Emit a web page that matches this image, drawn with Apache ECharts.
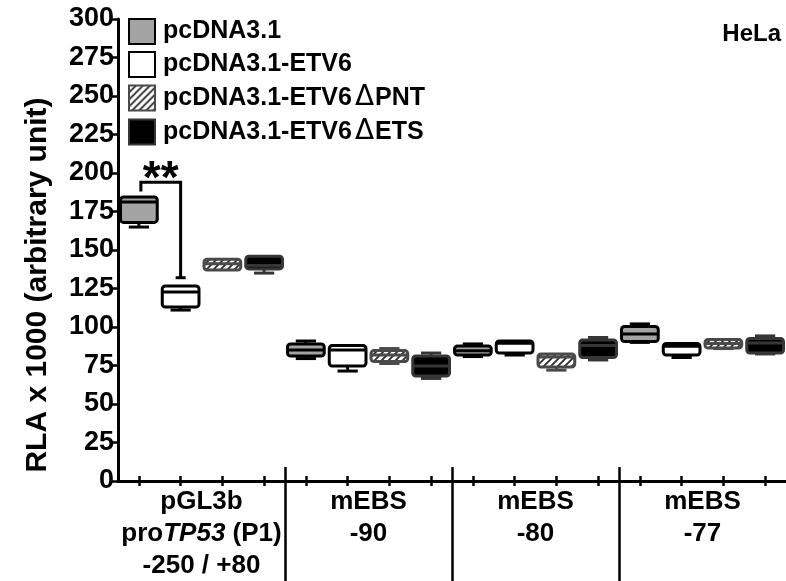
<!DOCTYPE html>
<html><head><meta charset="utf-8">
<script src="https://cdn.jsdelivr.net/npm/echarts@6/dist/echarts.min.js"></script>
<style>html,body{margin:0;padding:0;background:#fff}#c{width:786px;height:581px}</style>
</head><body><div id="c"></div>
<script>
// ---------- data ----------
const groups = ['pGL3b\nproTP53 (P1)\n-250 / +80', 'mEBS\n-90', 'mEBS\n-80', 'mEBS\n-77'];
const seriesNames = ['pcDNA3.1', 'pcDNA3.1-ETV6', 'pcDNA3.1-ETV6\u0394PNT', 'pcDNA3.1-ETV6\u0394ETS'];
// each entry: [min, Q1, median, Q3, max] for groups in order
const pcDNA31   = [[164.9,167.9,181.2,184.4,184.4],[79.5,81.2,85.0,89.0,90.9],[80.8,81.8,84.6,87.7,89.0],[90.0,90.6,95.5,100.3,102.0]];
const etv6      = [[111.0,113.0,122.7,126.6,126.6],[71.4,74.7,85.0,88.0,88.0],[81.8,83.1,89.5,90.9,90.9],[80.2,81.8,87.5,89.3,89.3]];
const etv6dPNT  = [[137.0,137.0,141.0,144.0,144.0],[76.3,77.6,81.8,84.7,86.0],[72.0,74.0,80.5,82.5,82.5],[86.0,86.4,89.3,91.9,91.9]];
const etv6dETS  = [[135.0,137.7,140.0,146.0,146.0],[66.6,68.2,74.7,81.2,83.1],[78.6,80.2,88.0,91.6,93.2],[82.5,83.1,89.6,92.5,94.2]];
const allSeries = [pcDNA31, etv6, etv6dPNT, etv6dETS];
const yMin = 0, yMax = 300, yStep = 25;
// significance bracket: [leftSlot, rightSlot, topValue, leftEndValue, rightEndValue]
const bracket = [[0, 1, 194, 188, 132]];
const bracketLabel = '**';

// ---------- styling ----------
const FONT = "'Liberation Sans', Arial, sans-serif";
function hatch() {
  const c = document.createElement('canvas');
  c.width = 7; c.height = 7;
  const g = c.getContext('2d');
  g.fillStyle = '#fff'; g.fillRect(0, 0, 7, 7);
  g.strokeStyle = '#2a2a2a'; g.lineWidth = 1.8;
  g.beginPath();
  g.moveTo(-1, 8); g.lineTo(8, -1);
  g.moveTo(-4, 4); g.lineTo(4, -4);
  g.moveTo(3, 11); g.lineTo(11, 3);
  g.stroke();
  return c;
}
const styles = [
  { fill: '#a3a3a3', stroke: '#000' },
  { fill: '#ffffff', stroke: '#000' },
  { fill: { image: hatch(), repeat: 'repeat' }, stroke: '#4a4a4a' },
  { fill: '#000000', stroke: '#363636' }
];

const slots = [];
groups.forEach((g, gi) => seriesNames.forEach((s, si) => slots.push(gi + '-' + si)));
const sepSlots = ['b0', 'b1', 'b2', 'b3', 'b4'];

function renderBox(params, api) {
  const st = styles[params.seriesIndex];
  const x = api.value(0);
  const pMin = api.coord([x, api.value(1)]);
  const pQ1 = api.coord([x, api.value(2)]);
  const pMed = api.coord([x, api.value(3)]);
  const pQ3 = api.coord([x, api.value(4)]);
  const pMax = api.coord([x, api.value(5)]);
  const slotW = api.size([1, 0])[0];
  const bw = slotW * 0.88, cw = bw * 0.55, cx = pMed[0];
  const lw = 3;
  const line = (x1, y1, x2, y2) => ({ type: 'line', shape: { x1, y1, x2, y2 }, style: { stroke: st.stroke, lineWidth: lw } });
  const ch = [];
  if (pMax[1] < pQ3[1] - 0.5) { ch.push(line(cx, pQ3[1], cx, pMax[1])); ch.push(line(cx - cw / 2, pMax[1], cx + cw / 2, pMax[1])); }
  if (pMin[1] > pQ1[1] + 0.5) { ch.push(line(cx, pQ1[1], cx, pMin[1])); ch.push(line(cx - cw / 2, pMin[1], cx + cw / 2, pMin[1])); }
  ch.push({ type: 'rect', shape: { x: cx - bw / 2, y: pQ3[1], width: bw, height: pQ1[1] - pQ3[1], r: 3 },
    style: { fill: st.fill, stroke: st.stroke, lineWidth: lw } });
  ch.push(line(cx - bw / 2, pMed[1], cx + bw / 2, pMed[1]));
  return { type: 'group', children: ch };
}

function renderBracket(params, api) {
  const pL = api.coord([api.value(0), api.value(2)]);
  const pR = api.coord([api.value(1), api.value(2)]);
  const pLE = api.coord([api.value(0), api.value(3)]);
  const pRE = api.coord([api.value(1), api.value(4)]);
  const xl = pL[0] + 2, xr = pR[0];
  return { type: 'group', children: [
    { type: 'polyline', shape: { points: [[xl, pLE[1]], [xl, pL[1]], [xr, pR[1]], [xr, pRE[1]]] },
      style: { stroke: '#000', lineWidth: 3, fill: null } },
    { type: 'line', shape: { x1: xr - 5, y1: pRE[1], x2: xr + 5, y2: pRE[1] }, style: { stroke: '#000', lineWidth: 3 } },
    { type: 'text', x: (xl + xr) / 2, y: pL[1] + 21,
      style: { text: bracketLabel, font: 'bold 46px ' + FONT, fill: '#000', align: 'center', verticalAlign: 'bottom' } }
  ] };
}

const series = allSeries.map((vals, si) => ({
  name: seriesNames[si],
  type: 'custom',
  xAxisIndex: 0, yAxisIndex: 0,
  renderItem: renderBox,
  itemStyle: { color: styles[si].fill, borderColor: styles[si].stroke, borderWidth: 3 },
  encode: { x: 0, y: [1, 2, 3, 4, 5] },
  data: vals.map((v, gi) => [gi * 4 + si].concat(v)),
  z: 3
}));
series.push({
  name: 'bracket', type: 'custom', xAxisIndex: 0, yAxisIndex: 0,
  renderItem: renderBracket, encode: { x: [0, 1], y: [2, 3, 4] }, data: bracket, z: 4
});

const tickStyle = { color: '#000', width: 2.5 };
const sepInterval = (i) => i > 0 && i < sepSlots.length - 1;
const hidden = { show: false };
const option = {
  animation: false,
  backgroundColor: '#fff',
  textStyle: { fontFamily: FONT },
  title: { text: 'HeLa', right: 5, top: 22, padding: 0,
    textStyle: { fontSize: 24, fontWeight: 'bold', color: '#000', fontFamily: FONT } },
  legend: {
    orient: 'vertical', left: 128, top: 18, padding: 0,
    itemWidth: 26, itemHeight: 25, itemGap: 6, icon: 'rect', selectedMode: false,
    data: seriesNames,
    formatter: (name) => {
      const k = name.indexOf('\u0394');
      return k < 0 ? '{a|' + name + '}' : '{a|' + name.slice(0, k) + '}{d|\u0394}{a|' + name.slice(k + 1) + '}';
    },
    textStyle: { fontSize: 25, fontWeight: 'bold', color: '#000', fontFamily: FONT, padding: [0, 0, 0, 3],
      rich: {
        a: { fontSize: 25, fontWeight: 'bold', color: '#000', fontFamily: FONT },
        d: { fontSize: 28, fontWeight: 'normal', color: '#000', fontFamily: "'DejaVu Sans', " + FONT, padding: [0, 1, 0, 3] }
      } }
  },
  grid: { left: 118, right: 0, top: 19, bottom: 100, containLabel: false },
  graphic: [{
    type: 'text', x: 38, y: 285, rotation: Math.PI / 2,
    style: { text: 'RLA x 1000 (arbitrary unit)', font: 'bold 30px ' + FONT, fill: '#000', align: 'center', verticalAlign: 'middle' }
  }],
  xAxis: [
    { type: 'category', data: slots, position: 'bottom', boundaryGap: true,
      axisLine: { show: true, onZero: false, lineStyle: { color: '#000', width: 3 } },
      axisTick: { show: true, alignWithLabel: true, interval: 0, length: 5, lineStyle: tickStyle },
      axisLabel: hidden, splitLine: hidden },
    { type: 'category', data: slots, position: 'bottom', boundaryGap: true,
      axisLine: { show: false, onZero: false },
      axisTick: { show: true, inside: true, alignWithLabel: true, interval: 0, length: 5, lineStyle: tickStyle },
      axisLabel: hidden, splitLine: hidden },
    { type: 'category', data: groups, position: 'bottom', boundaryGap: true,
      axisLine: { show: false, onZero: false },
      axisTick: hidden,
      axisLabel: { show: true, interval: 0, margin: 5, color: '#000',
        formatter: (v, i) => i === 0 ? '{n|pGL3b}\n{n|pro}{i|TP53}{n| (P1)}\n{n|-250 / +80}'
                                     : v.split('\n').map(s => '{n|' + s + '}').join('\n'),
        rich: {
          n: { fontSize: 26, fontWeight: 'bold', color: '#000', fontFamily: FONT, lineHeight: 32 },
          i: { fontSize: 26, fontWeight: 'bold', fontStyle: 'italic', color: '#000', fontFamily: FONT, lineHeight: 32 }
        } },
      splitLine: hidden },
    { type: 'category', data: sepSlots, position: 'bottom', boundaryGap: false,
      axisLine: { show: false, onZero: false },
      axisTick: { show: true, interval: sepInterval, length: 100, lineStyle: tickStyle },
      axisLabel: hidden, splitLine: hidden },
    { type: 'category', data: sepSlots, position: 'bottom', boundaryGap: false,
      axisLine: { show: false, onZero: false },
      axisTick: { show: true, inside: true, interval: sepInterval, length: 14, lineStyle: tickStyle },
      axisLabel: hidden, splitLine: hidden }
  ],
  yAxis: {
    type: 'value', min: yMin, max: yMax, interval: yStep,
    axisLine: { show: true, lineStyle: { color: '#000', width: 3 } },
    axisTick: { show: true, length: 6, lineStyle: tickStyle },
    axisLabel: { fontSize: 27, fontWeight: 'bold', color: '#000', fontFamily: FONT, margin: 4 },
    splitLine: hidden
  },
  series: series
};
const chart = echarts.init(document.getElementById('c'), null, { renderer: 'canvas' });
chart.setOption(option);
</script>
</body></html>
